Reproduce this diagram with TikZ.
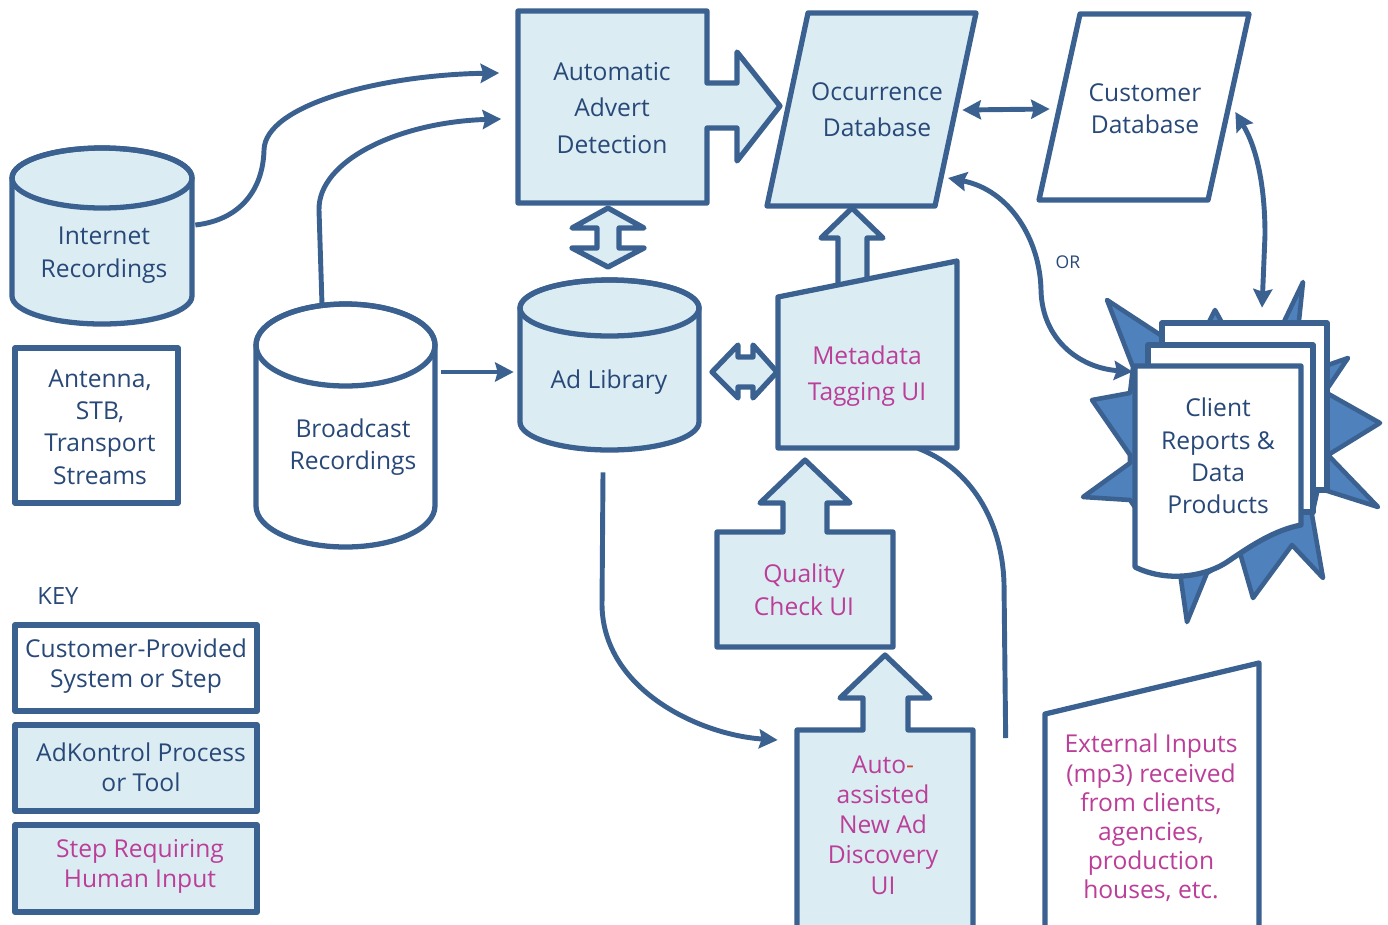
\documentclass[tikz,border=0pt]{standalone}
\usepackage{fontspec}
\setmainfont{Open Sans}
\usetikzlibrary{arrows.meta}
\definecolor{kblue}{RGB}{59,97,145}
\definecolor{kfill}{RGB}{219,237,243}
\definecolor{ktext}{RGB}{40,72,120}
\definecolor{kpink}{RGB}{187,62,152}
\definecolor{kstar}{RGB}{79,129,189}
\definecolor{kred}{RGB}{205,75,45}
\tikzset{box/.style = {draw=kblue, line width=3pt, line join=round, fill=kfill}}
\tikzset{plain/.style = {box, fill=white}}
\tikzset{burst/.style = {draw=kblue, line width=2.6pt, line join=round, fill=kstar}}
\tikzset{txt/.style = {text=ktext, align=center, inner sep=0pt, font=\fontsize{14}{19}\selectfont}}
\tikzset{human/.style = {txt, text=kpink}}
\tikzset{lead/.style = {font=\fontsize{14}{#1}\selectfont}}
\tikzset{link/.style = {->, > = {Stealth[length=0.37cm, width=0.38cm, inset=0.05cm]}, draw=kblue, line width=2.8pt}}

\begin{document}
\begin{tikzpicture}[x=0.02cm, y=-0.02cm]
          \useasboundingbox (0,0) rectangle (1388,924);

          \draw[box] (518,11) -- (707,11) -- (707,83) -- (737,83) -- (737,52) -- (780,106)
            -- (737,161) -- (737,128) -- (707,128) -- (707,203) -- (518,203) -- cycle;
          \draw[box] (808,13) -- (976,13) -- (935,206) -- (767,206) -- cycle;
          \draw[plain] (1080,14) -- (1249,14) -- (1208,200) -- (1039,200) -- cycle;
          \draw[box] (608,208) -- (644,228) -- (619,228) -- (619,248) -- (644,248) -- (608,267)
            -- (572,248) -- (597,248) -- (597,228) -- (572,228) -- cycle;
          \draw[box] (852,208) -- (883,238) -- (867,238) -- (867,290) -- (838,290) -- (838,238)
            -- (821,238) -- cycle;
          \draw[box] (712,372) -- (738,345) -- (738,357) -- (753,357) -- (753,345) -- (777,372)
            -- (753,398) -- (753,387) -- (738,387) -- (738,398) -- cycle;
          \draw[box] (778,297) -- (957,261) -- (957,448) -- (778,448) -- cycle;
          \draw[box] (717,532) -- (783,532) -- (783,503) -- (760,503) -- (805,460) -- (850,503)
            -- (827,503) -- (827,532) -- (893,532) -- (893,647) -- (717,647) -- cycle;
          \draw[box] (797,730) -- (863,730) -- (863,698) -- (840,698) -- (885,655) -- (930,698)
            -- (908,698) -- (908,730) -- (973,730) -- (973,940) -- (797,940) -- cycle;
          \draw[plain] (1045,714) -- (1259,663) -- (1259,940) -- (1045,940) -- cycle;

          \draw[box] (12,178) -- (12,296) arc[start angle=180, end angle=360, x radius=1.8cm, y radius=0.56cm]
            -- (192,178) arc[start angle=0, end angle=180, x radius=1.8cm, y radius=0.6cm] -- cycle;
          \draw[box, fill=none] (102,178) ellipse [x radius=1.8cm, y radius=0.6cm];
          \draw[plain] (256,345) -- (256,506) arc[start angle=180, end angle=360, x radius=1.79cm, y radius=0.82cm]
            -- (435,345) arc[start angle=0, end angle=180, x radius=1.79cm, y radius=0.82cm] -- cycle;
          \draw[plain, fill=none] (345.5,345) ellipse [x radius=1.79cm, y radius=0.82cm];
          \draw[box] (520,308) -- (520,422) arc[start angle=180, end angle=360, x radius=1.79cm, y radius=0.56cm]
            -- (699,308) arc[start angle=0, end angle=180, x radius=1.79cm, y radius=0.56cm] -- cycle;
          \draw[box, fill=none] (609.5,308) ellipse [x radius=1.79cm, y radius=0.56cm];

          \draw[plain] (15,348) rectangle (178,503);
          \draw[plain, line width=3.4pt] (15,625) rectangle (257,711);
          \draw[box, line width=3.4pt] (15,725) rectangle (257,811);
          \draw[box, line width=3.4pt] (15,825) rectangle (257,912);

          \draw[burst] (1215,310) -- (1226,330) -- (1280,330) -- (1303,282) -- (1298,330) -- (1325,366)
            -- (1348,358) -- (1325,392) -- (1380,423) -- (1328,455) -- (1378,507) -- (1318,488)
            -- (1312,515) -- (1323,578) -- (1292,545) -- (1253,598) -- (1240,553) -- (1207,573)
            -- (1187,622) -- (1180,573) -- (1130,500) -- (1083,497) -- (1130,463) -- (1130,455)
            -- (1092,400) -- (1130,393) -- (1133,367) -- (1107,300) -- (1165,338) -- (1205,330) -- cycle;
          \draw[plain] (1162,323) rectangle (1327,490);
          \draw[plain] (1148,345) rectangle (1313,512);
          \draw[plain] (1135,366) -- (1301,366) -- (1301,525) .. controls (1275,530) and (1252,545) .. (1230,560)
            .. controls (1205,578) and (1165,582) .. (1135,567) -- cycle;

          \node[txt, lead=20.8, minimum width=3.78cm, minimum height=3.84cm] (aad) at (612,108) {Automatic\\Advert\\Detection};
          \node[txt, lead=20.5, minimum width=3.4cm, minimum height=3.88cm] (occ) at (877,110) {Occurrence\\Database};
          \node[txt, lead=18.2, minimum width=3.8cm] (cust) at (1145,109) {Customer\\Database};
          \node[txt, lead=18.8, minimum width=3.6cm] (inet) at (104,255) {Internet\\Recordings};
          \node[txt, lead=18.2, minimum width=3.6cm, minimum height=5.68cm] (bcast) at (353,447) {Broadcast\\Recordings};
          \node[txt, lead=18.4] (ant) at (100,427) {Antenna,\\STB,\\Transport\\Streams};
          \node[txt, minimum width=3.6cm, minimum height=2.8cm] (adlib) at (609,382) {Ad Library};
          \node[human, lead=20.5, minimum width=3.58cm, minimum height=2.96cm] (meta) at (867,376) {Metadata\\Tagging UI};
          \node[human, lead=18.8] (qual) at (804,590) {Quality\\Check UI};
          \node[human, lead=17.2, minimum width=3.52cm] (auto) at (883,825) {Auto{\color{kred}-}\\assisted\\New Ad\\Discovery\\UI};
          \node[human, lead=16.6, minimum width=4.28cm] (ext) at (1151,818) {External Inputs\\(mp3) received\\from clients,\\agencies,\\production\\houses, etc.};
          \node[txt, lead=18.4, minimum width=3.32cm, minimum height=3.6cm] (rep) at (1218,456) {Client\\Reports \&\\Data\\Products};
          \node[txt, font=\fontsize{10}{12}\selectfont] (orlbl) at (1068,262) {OR};
          \node[txt, font=\fontsize{13.5}{16}\selectfont] (key) at (58,596) {KEY};
          \node[txt, lead=17] (keycust) at (136,666) {Customer-Provided\\System or Step};
          \node[txt, lead=17] (keyproc) at (141,767) {AdKontrol Process\\or Tool};
          \node[human, lead=17] (keyhum) at (140,866) {Step Requiring\\Human Input};

          \draw[link] ([shift={(1,-30)}]inet.east) .. controls (240,220) and (263,190) .. (264,150)
            .. controls (265,105) and (380,75) .. ([shift={(-18,-35)}]aad.west);
          \draw[link] ([shift={(-31,0)}]bcast.north) -- (319,210) .. controls (318,160) and (400,122)
            .. ([shift={(-16,11)}]aad.west);
          \draw[link] ([shift={(-2,-75)}]bcast.east) -- ([shift={(-5,-10)}]adlib.west);
          \draw[link, <->] (occ.east) -- (cust.west);
          \draw[link, <->] ([shift={(-5,3)}]cust.east) .. controls (1258,150) and (1265,190) .. (1265,235)
            -- ([shift={(44,-58)}]rep.north);
          \draw[link, <->] ([shift={(71,68)}]occ.center) .. controls (1010,190) and (1040,240) .. (1041,290)
            .. controls (1042,340) and (1080,368) .. ([shift={(-2,6)}]rep.north west);
          \draw[link] ([shift={(-6,20)}]adlib.south) -- (602,605) .. controls (603,690) and (700,735)
            .. ([shift={(-17,-85)}]auto.west);
          \draw[link, -] ([shift={(-38,-80)}]ext.west) -- (1004,583) .. controls (1002,520) and (970,468)
            .. ([shift={(51,-2)}]meta.south);
        \end{tikzpicture}
\end{document}
